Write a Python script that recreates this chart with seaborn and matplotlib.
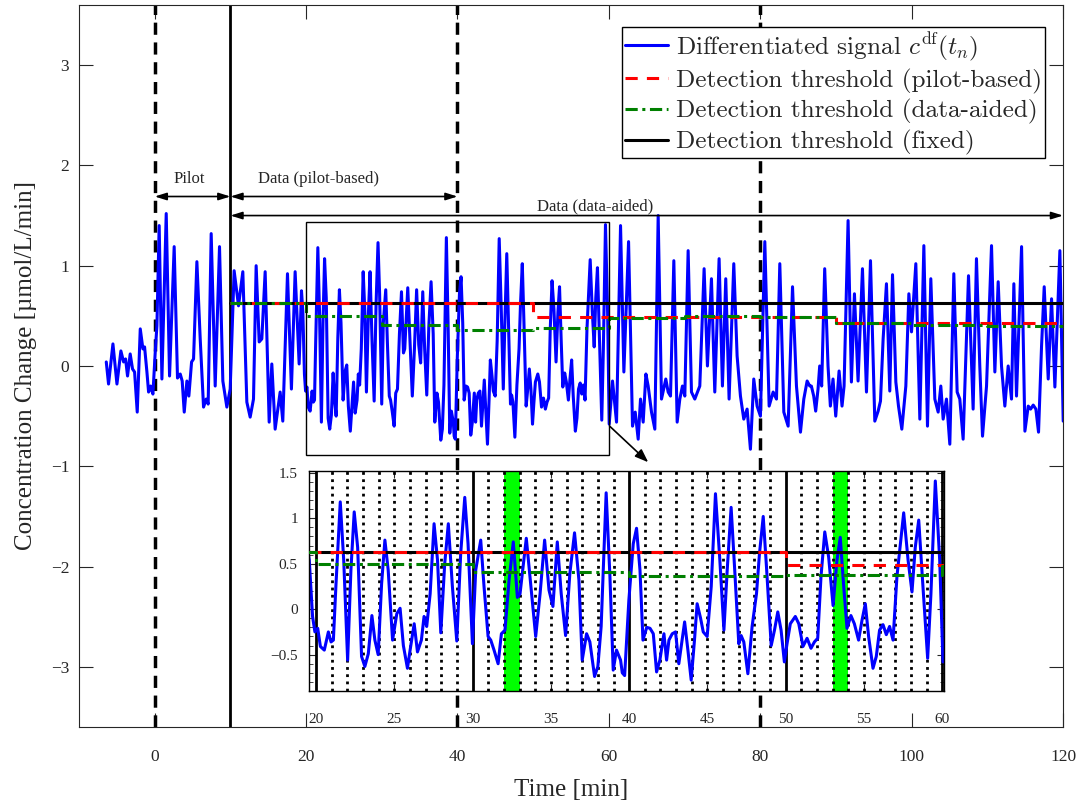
import numpy as np
import pandas as pd
import matplotlib
matplotlib.use("Agg")
import matplotlib.pyplot as plt
from matplotlib.patches import Rectangle
import seaborn as sns

# differentiated signal c^df(t_n) (time in min)
time_min = [
    -6.40, -6.10, -5.52, -4.99, -4.47, -4.11, -3.85, -3.59, -3.24, -2.93, -2.66, -2.31,
    -1.91, -1.56, -1.34, -1.03, -0.81, -0.55, -0.24, 0.07, 0.29, 0.59, 0.95, 1.52, 1.96,
    2.57, 3.01, 3.37, 3.63, 3.90, 4.25, 4.51, 4.87, 5.13, 5.57, 6.01, 6.45, 6.80, 7.06,
    7.46, 7.99, 8.56, 9.00, 9.53, 9.97, 10.49, 11.07, 11.64, 12.17, 12.61, 13.05, 13.40,
    13.80, 14.15, 14.59, 15.12, 15.47, 15.91, 16.57, 16.92, 17.54, 18.06, 18.55, 19.08,
    19.39, 19.57, 19.78, 19.93, 20.11, 20.28, 20.53, 20.79, 20.96, 21.11, 21.27, 21.55,
    21.77, 22.02, 22.23, 22.44, 22.66, 22.91, 23.12, 23.34, 23.57, 23.76, 23.97, 24.19,
    24.40, 24.61, 24.89, 25.16, 25.37, 25.58, 25.84, 26.01, 26.27, 26.48, 26.73, 26.90,
    27.07, 27.29, 27.54, 27.76, 27.97, 28.22, 28.45, 28.71, 28.99, 29.24, 29.50, 29.71,
    29.99, 30.20, 30.52, 30.73, 30.99, 31.16, 31.37, 31.63, 31.84, 32.07, 32.33, 32.60,
    32.86, 33.03, 33.43, 33.71, 34.03, 34.31, 34.60, 34.88, 35.13, 35.41, 35.66, 35.94,
    36.21, 36.51, 36.79, 37.00, 37.28, 37.49, 37.79, 38.00, 38.21, 38.53, 38.77, 38.98,
    39.19, 39.45, 39.56, 39.71, 39.98, 40.26, 40.47, 40.69, 40.88, 41.12, 41.33, 41.54,
    41.75, 41.96, 42.22, 42.39, 42.54, 42.75, 42.96, 43.17, 43.32, 43.54, 43.75, 43.96,
    44.17, 44.34, 44.56, 44.73, 44.98, 45.24, 45.51, 45.79, 46.05, 46.26, 46.51, 46.73,
    47.00, 47.15, 47.32, 47.58, 47.85, 48.13, 48.32, 48.56, 48.77, 49.07, 49.28, 49.49,
    49.70, 49.91, 50.08, 50.29, 50.61, 50.83, 51.10, 51.36, 51.61, 51.83, 52.04, 52.25,
    52.49, 52.74, 53.02, 53.27, 53.48, 53.70, 53.91, 54.16, 54.38, 54.65, 54.87, 55.08,
    55.29, 55.57, 55.78, 55.99, 56.21, 56.42, 56.63, 56.85, 57.10, 57.53, 57.81, 58.06,
    58.27, 58.49, 58.76, 59.06, 59.27, 59.55, 59.83, 60.04, 60.48, 61.01, 61.54, 61.98,
    62.60, 63.12, 63.48, 63.87, 64.18, 64.53, 64.89, 65.19, 65.63, 66.07, 66.51, 66.95,
    67.52, 67.83, 68.14, 68.58, 69.02, 69.37, 69.72, 70.03, 70.47, 70.91, 71.35, 71.70,
    72.01, 72.58, 73.02, 73.55, 73.99, 74.56, 75.00, 75.44, 75.88, 76.50, 76.94, 77.38,
    77.82, 78.26, 78.70, 79.14, 79.58, 80.02, 80.60, 81.17, 81.70, 82.14, 82.58, 83.11,
    83.68, 84.26, 84.78, 85.31, 85.75, 86.19, 86.54, 86.75, 87.06, 87.32, 87.63, 87.85,
    88.11, 88.51, 88.95, 89.26, 89.61, 89.97, 90.41, 90.80, 91.07, 91.60, 92.04, 92.44,
    92.92, 93.50, 94.03, 94.56, 95.13, 95.57, 95.88, 96.23, 96.67, 97.11, 97.47, 97.91,
    98.26, 98.70, 99.23, 99.63, 99.98, 100.55, 101.08, 101.61, 102.09, 102.53, 103.06,
    103.50, 103.85, 104.16, 104.60, 105.04, 105.57, 106.01, 106.36, 106.80, 107.51,
    108.12, 108.56, 109.00, 109.36, 109.89, 110.55, 110.99, 111.43, 111.87, 112.31,
    112.75, 113.19, 113.50, 113.85, 114.52, 114.96, 115.40, 115.71, 116.06, 116.41,
    116.76, 117.16, 117.51, 118.04, 118.48, 118.92, 119.58, 120.02,
]
signal = [
    0.04, -0.18, 0.22, -0.18, 0.15, 0.04, 0.07, -0.10, 0.12, -0.03, -0.06, -0.46,
    0.37, 0.17, 0.19, -0.06, -0.26, -0.20, -0.28, 0.14, 0.40, 1.40, -0.13, 1.52, -0.10,
    1.19, -0.12, -0.08, -0.15, -0.46, -0.15, -0.30, 0.04, 0.07, 1.04, 0.27, -0.41, -0.33, -0.38,
    1.32, -0.20, 1.19, -0.15, -0.41, -0.23, 0.95, 0.60, 0.94, -0.36, -0.51, -0.33, 1.00,
    0.24, 0.27, 0.94, -0.56, 0.02, -0.63, -0.26, -0.55, 0.92, -0.23, 0.94, 0.02,
    0.75, 0.54, -0.08, -0.25, -0.21, -0.41, -0.45, -0.25, -0.36, -0.34, 0.25, 1.18,
    0.54, -0.56, 0.43, 1.07, 0.68, -0.52, -0.63, -0.49, -0.07, -0.34, -0.50, 0.28,
    0.76, 0.43, -0.34, -0.05, 0.01, -0.40, -0.65, -0.45, -0.16, -0.47, -0.34, -0.08,
    -0.19, 0.17, 0.94, 0.54, -0.26, 0.50, 0.94, 0.25, -0.35, 0.61, 1.23, 0.72,
    -0.38, 0.43, 0.76, 0.25, -0.30, -0.34, -0.45, -0.60, -0.27, -0.23, 0.32, 0.74,
    0.13, 0.17, 0.78, 0.28, -0.30, 0.17, 0.76, 0.21, 0.03, 0.74, 0.17, -0.29,
    0.39, 0.84, 0.32, -0.56, -0.27, -0.36, -0.74, -0.63, -0.19, 1.28, 0.36, -0.67,
    -0.45, -0.56, -0.70, -0.73, 0.10, 0.72, 0.89, 0.43, -0.34, -0.20, -0.21, -0.27,
    -0.69, -0.56, -0.27, -0.56, -0.34, -0.27, -0.25, -0.60, -0.41, -0.14, -0.45, -0.78,
    -0.34, 0.06, -0.10, -0.25, -0.30, 0.25, 1.27, 0.54, -0.23, 0.43, 1.12, 0.46,
    -0.38, -0.29, -0.36, -0.71, -0.19, 0.17, 0.61, 1.02, 0.46, -0.40, -0.23, -0.03,
    -0.23, -0.58, -0.38, -0.16, -0.08, -0.16, -0.41, -0.32, -0.43, -0.36, -0.32, 0.36,
    0.85, 0.57, 0.04, 0.54, 0.79, 0.25, -0.21, -0.07, -0.16, -0.34, -0.12, 0.06,
    -0.30, -0.65, -0.52, -0.23, -0.17, -0.28, -0.19, -0.34, 0.36, 1.06, 0.54, 0.19,
    0.68, 0.98, 0.25, -0.54, 0.17, 1.41, 0.54, -0.58, -0.15, -0.56, 1.40, -0.06,
    1.24, -0.60, -0.46, -0.73, -0.33, -0.56, -0.08, -0.20, -0.46, -0.63, 1.50, -0.33,
    -0.13, -0.26, -0.30, 1.05, -0.56, -0.33, -0.20, -0.30, 1.15, -0.26, -0.33, -0.26,
    -0.20, 0.97, 0.00, 0.87, -0.26, 1.07, -0.20, 0.87, -0.33, 1.02, 0.10, -0.30,
    -0.53, -0.43, -0.83, -0.13, -0.40, -0.50, 1.24, -0.40, -0.26, -0.33, 1.02, -0.46,
    -0.60, 0.79, -0.20, -0.66, -0.33, -0.15, -0.20, -0.20, -0.30, -0.45, -0.23, 0.00,
    -0.20, 0.97, 0.00, -0.40, -0.13, -0.50, -0.05, -0.40, -0.20, 1.45, -0.16, 0.72,
    -0.15, 0.97, -0.26, 1.05, -0.55, -0.45, -0.35, 0.27, 0.82, -0.25, 0.91, -0.16,
    -0.40, -0.63, -0.20, 0.72, 0.34, 1.02, -0.53, 1.20, -0.60, 0.87, -0.33,
    -0.46, -0.20, -0.53, -0.33, -0.78, 0.92, -0.26, -0.33, -0.73, 0.90,
    -0.43, 1.07, 0.00, -0.70, -0.20, 1.20, -0.06, 0.84, 0.00, -0.40,
    0.00, -0.33, 0.82, -0.30, 1.19, -0.65, -0.40, -0.43, -0.39, -0.43,
    -0.66, 0.20, 0.79, -0.13, 0.67, -0.21, 1.15, -0.55,
]

# detection thresholds (step functions, value holds from edge to next edge)
aided_edges = [10, 20, 30, 40, 50, 60, 70, 80, 90, 100, 110, 120]
aided_thr = [0.63, 0.50, 0.41, 0.36, 0.38, 0.48, 0.50, 0.49, 0.43, 0.41, 0.40]
pilot_edges = [10, 50, 90, 120]
pilot_thr = [0.63, 0.49, 0.43]
fixed_thr = 0.63

phase_dashed = [0, 40, 80]
phase_solid = [10]
detected_slots = [32, 53]
minute_marks = list(range(20, 61))

df = pd.DataFrame({"t": time_min, "v": signal})

sns.set_style("ticks")
plt.rcParams["font.family"] = ["Liberation Serif", "DejaVu Serif"]
plt.rcParams["mathtext.fontset"] = "cm"

fig = plt.figure(figsize=(10.81, 8.01), dpi=100)
ax = fig.add_axes([0.0731, 0.0924, 0.9103, 0.9014])


def draw_thresholds(a):
    a.plot([aided_edges[0], aided_edges[-1]], [fixed_thr, fixed_thr], color="k", lw=2.2,
           zorder=3, label="Detection threshold (fixed)")
    a.plot(pilot_edges, pilot_thr + pilot_thr[-1:], drawstyle="steps-post", color="red",
           lw=2.2, ls=(0, (4, 3)), zorder=4, label="Detection threshold (pilot-based)")
    a.plot(aided_edges, aided_thr + aided_thr[-1:], drawstyle="steps-post", color="green",
           lw=2.2, ls=(0, (4, 1.5, 1, 1.5)), zorder=5, label="Detection threshold (data-aided)")


sns.lineplot(data=df, x="t", y="v", ax=ax, color="blue", lw=2.2, sort=False,
             estimator=None, zorder=2, solid_joinstyle="round",
             label=r"Differentiated signal $c^{\mathrm{df}}(t_n)$")
draw_thresholds(ax)

for x in phase_dashed:
    ax.axvline(x, color="k", lw=2.5, ls=(0, (3.5, 2.2)), zorder=1)
for x in phase_solid:
    ax.axvline(x, color="k", lw=2, zorder=1)

ax.set_xlim(-10, 120)
ax.set_ylim(-3.6, 3.6)
ax.set_xticks(range(0, 121, 20))
ax.set_yticks(range(-3, 4))
ax.tick_params(direction="in", length=10, width=0.8, top=True, right=True,
               labelsize=12.5, colors="0.15")
ax.tick_params(axis="x", pad=16)
ax.tick_params(axis="y", pad=7)
for s in ax.spines.values():
    s.set_color("0.15")
    s.set_linewidth(0.8)
ax.set_xlabel("Time [min]", fontsize=18, labelpad=10)
ax.set_ylabel("Concentration Change [µmol/L/min]", fontsize=18, labelpad=10)

# phase annotations
arrow_kw = dict(arrowstyle="<|-|>,head_length=0.7,head_width=0.22", color="k", lw=1.2,
                shrinkA=0, shrinkB=0)
ax.annotate("", xy=(0, 1.69), xytext=(10, 1.69), arrowprops=arrow_kw)
ax.annotate("", xy=(10, 1.69), xytext=(40, 1.69), arrowprops=arrow_kw)
ax.annotate("", xy=(10, 1.50), xytext=(120, 1.50), arrowprops=arrow_kw)
ax.text(4.5, 1.86, "Pilot", ha="center", va="center", fontsize=12)
ax.text(21.6, 1.86, "Data (pilot-based)", ha="center", va="center", fontsize=12)
ax.text(58.2, 1.59, "Data (data-aided)", ha="center", va="center", fontsize=12)

ax.add_patch(Rectangle((20, -0.89), 40, 2.33, fill=False, ec="k", lw=1, zorder=6))
ax.annotate("", xy=(65.2, -0.96), xytext=(60.1, -0.60),
            arrowprops=dict(arrowstyle="-|>,head_length=0.8,head_width=0.3", color="k",
                            lw=1.2, shrinkA=0, shrinkB=0))

h, l = ax.get_legend_handles_labels()
order = [0, 2, 3, 1]
leg = ax.legend([h[i] for i in order], [l[i] for i in order], loc="upper right",
                bbox_to_anchor=(0.982, 0.970), borderaxespad=0,
                prop={"family": "cmr10", "size": 18.2}, handlelength=1.7, handletextpad=0.3,
                labelspacing=0.22, borderpad=0.14, fancybox=False, framealpha=1,
                edgecolor="k")
leg.get_frame().set_linewidth(1)

# zoomed inset
axin = fig.add_axes([0.2858, 0.1373, 0.5874, 0.2747])
for x in detected_slots:
    axin.axvspan(x, x + 1, color="#00ff00", lw=0, zorder=0)
for m in minute_marks:
    if m % 10:
        axin.axvline(m, color="k", lw=2, ls=(0, (1, 1.6)), zorder=1)
    else:
        axin.axvline(m, color="k", lw=2, zorder=1)
sns.lineplot(data=df, x="t", y="v", ax=axin, color="blue", lw=2.2, sort=False,
             estimator=None, zorder=2, solid_joinstyle="round", legend=False)
draw_thresholds(axin)
axin.set_xlim(19.55, 60.1)
axin.set_ylim(-0.9, 1.52)
axin.set_xticks(range(20, 61, 5))
axin.set_yticks([-0.5, 0, 0.5, 1, 1.5])
axin.set_yticklabels(["\u22120.5", "0", "0.5", "1", "1.5"])
axin.set_yticks(np.arange(-0.9, 1.51, 0.1), minor=True)
axin.set_xlabel("")
axin.set_ylabel("")
axin.tick_params(direction="in", length=5, width=0.8, top=True, right=True, labelsize=11,
                 colors="0.15")
axin.tick_params(which="minor", direction="in", length=3, width=0.6, right=True)
axin.tick_params(axis="x", pad=16)
axin.tick_params(axis="y", pad=8)
for s in axin.spines.values():
    s.set_color("k")
    s.set_linewidth(1)

fig.savefig("out.png", dpi=100)
